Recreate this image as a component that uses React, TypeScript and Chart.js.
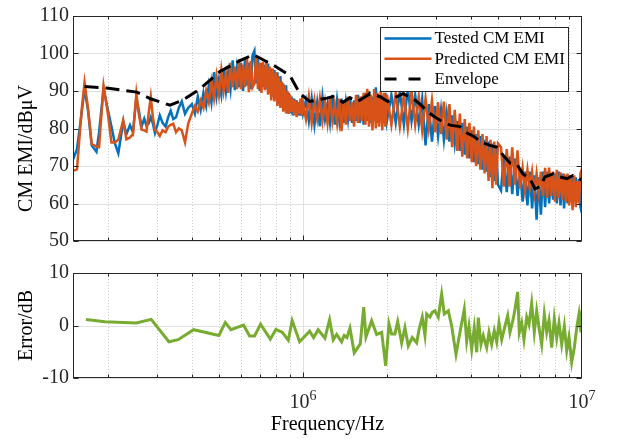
import React, { useEffect, useRef } from 'react';
import { Chart, registerables } from 'chart.js';

Chart.register(...registerables);

const FONT_FAMILY = '"Liberation Serif", "Times New Roman", Times, serif';
const INK = '#262626';

// ---------- data (frequency in kHz, levels in dBuV / dB) ----------
const freqKHz = [
  150, 155, 161, 165, 170, 175, 182, 186, 193, 200, 206, 212, 218, 227, 233, 240, 246, 253, 258, 264,
  270, 275, 280, 285, 290, 295, 301, 307, 314, 322, 329, 336, 343, 351, 359, 368, 378, 388,
  400, 410, 420, 430, 440, 450, 460, 470, 480, 490, 500, 510, 520, 530, 540, 550, 560, 570, 580, 590,
  600, 610, 620, 630, 640, 650, 660, 670, 680, 690, 700, 710, 720, 730, 740, 750, 760, 770, 780, 790,
  800, 810, 820, 830, 840, 850, 860, 870, 880, 890, 900, 910, 920, 930, 940, 950, 960, 970, 980, 990, 1000,
  1025, 1050, 1075, 1100, 1125, 1150, 1175, 1200, 1225, 1250, 1275, 1300, 1325, 1350, 1375, 1400, 1425, 1450, 1475, 1500,
  1525, 1550, 1575, 1600, 1625, 1650, 1675, 1700, 1725, 1750, 1775, 1800, 1825, 1850, 1875, 1900, 1925, 1950, 1975, 2000,
  2075, 2150, 2225, 2300, 2375, 2450, 2525, 2600, 2675, 2750, 2825, 2900, 2975, 3050, 3125, 3200, 3275, 3350, 3425, 3500,
  3575, 3650, 3725, 3800, 3875, 3950, 4025, 4100, 4175, 4250, 4325, 4400, 4475, 4550, 4625, 4700, 4775, 4850, 4925, 5000,
  5125, 5250, 5375, 5500, 5625, 5750, 5875, 6000, 6125, 6250, 6375, 6500, 6625, 6750, 6875, 7000, 7125, 7250, 7375, 7500,
  7625, 7750, 7875, 8000, 8125, 8250, 8375, 8500, 8625, 8750, 8875, 9000, 9125, 9250, 9375, 9500, 9625, 9750, 9875, 10000,
];

const testedDB = [
  71.7, 74.5, 84, 90.6, 84.5, 75.5, 73.8, 79, 90.6, 85, 80.5, 76, 73.4, 81.8, 78.5, 80.9, 79, 88.1, 85, 80.5,
  82.6, 80.8, 81.3, 83, 81.3, 78.8, 81, 83.5, 81.5, 80.5, 83, 84.7, 82.5, 83, 85.5, 87.2, 83.9, 85.5,
  86.5, 84, 88.5, 85, 89.5, 86, 91.5, 87, 95, 88.5, 93, 89, 96, 90, 95, 90.5, 98.2, 90.2, 96, 91,
  97.5, 90, 98.5, 91.5, 97.5, 90.5, 99.5, 100.7, 92, 98.5, 90, 97.5, 91, 97, 90.5, 97.3, 89.5, 96, 88.5, 95.6,
  88, 95, 86.5, 94, 86, 92, 85, 91.5, 84, 89.5, 84, 88.5, 83.5, 88, 84, 87.5, 83.5, 87, 83.4, 86.5, 84,
  87.5, 82, 88, 81, 87, 80.6, 88.5, 82.5, 86.5, 81.5, 89, 81, 87.5, 82, 88, 81.5, 87, 82.5, 88.5, 81.5,
  87.5, 82, 89, 81.5, 88.5, 81, 89.5, 82, 90, 81.5, 88.5, 82, 91, 81.5, 89, 82, 89, 81.5, 89.5, 82,
  89, 81.5, 90, 81, 90.8, 82, 89, 81, 88, 75.5, 86.5, 76.5, 86, 78, 85, 77, 84, 76.5, 83.5, 76,
  82, 74, 81.5, 73, 80.5, 72, 79.5, 71, 78.5, 70.5, 78, 69, 77, 68.5, 76.5, 67, 76, 66, 75.5, 65,
  63.5, 73, 63, 72.5, 62.5, 72, 62, 69, 60.5, 68.5, 59.5, 68.5, 58.7, 67.5, 55.7, 67, 57, 68.5, 59, 68.5,
  60, 68, 61, 68, 60, 68.5, 59.5, 68, 58.7, 67.5, 60, 67.5, 60.5, 67, 61, 67, 60.5, 66.5, 59, 57.4,
];

const predictedDB = [
  68.7, 69.1, 84.7, 92.3, 85, 75.9, 75.2, 75, 91.4, 84, 76.3, 76.3, 77, 82.2, 77.1, 77.6, 78.5, 89.3, 84, 79.7,
  79.5, 79.2, 84, 88.5, 83, 79.7, 79, 78, 79.5, 79, 80.5, 81, 81.3, 79, 80, 79.5, 76.3, 81.3,
  84, 86, 84.5, 87.5, 85.5, 90, 87, 92.5, 88, 94, 89, 95.5, 90, 94.5, 89.5, 97.5, 91, 96.5, 90.5, 98.5,
  90.5, 97, 91, 99, 89.7, 98, 91, 92, 99.5, 90.5, 97.5, 89.5, 97.8, 90.2, 97.7, 89, 96.5, 87.5, 96, 87.2,
  95, 86, 94, 85.5, 92.5, 84.5, 91.5, 84, 90, 83.9, 89, 84.5, 88, 83.5, 87.5, 83, 87, 84, 88, 83.5, 87,
  82.5, 88.5, 81.5, 87.5, 82.5, 88, 82, 87, 81.5, 88.5, 82, 86.5, 81.5, 88, 79.3, 87.5, 81, 88.5, 82, 87,
  80.5, 89, 81.5, 88.5, 82, 89.5, 81, 90.6, 80.5, 89, 79.5, 90.5, 80, 89.5, 80.5, 90, 79.5, 89.5, 80.5, 89,
  81, 89.5, 80.5, 89, 80, 90, 81, 88.5, 79.5, 88, 80, 87.5, 79, 87, 78.5, 87.2, 77, 86.5, 75, 85,
  74, 84, 72.5, 82.5, 72, 81.5, 71, 80.5, 70, 79.5, 69, 78.5, 68, 78, 66, 77, 64.1, 76.5, 65, 76,
  75, 64.5, 74.5, 64.5, 75, 65, 74.2, 64, 69.5, 63.5, 69, 64, 68.5, 63, 68, 63, 68.5, 62, 69.5, 61.5,
  69.6, 62, 68.5, 60.5, 69, 61.5, 68.3, 61, 68, 60.5, 68, 59.5, 67.5, 58.2, 67.5, 59, 66, 60, 68, 69.2,
];

const envFreqKHz = [
  165, 198, 254, 283, 334, 372, 427, 504, 595, 664, 783, 898, 975, 1059, 1122, 1219, 1281, 1391, 1474, 1574,
  1739, 1888, 2017, 2173, 2283, 2480, 2627, 2782, 2924, 3097, 3365, 3654, 3871, 4068, 4381, 4681, 4959, 5211, 5520, 5848,
  6145, 6511, 6784, 7071, 7367, 7873, 8340, 8835, 9284, 10000,
];
const envelopeDB = [
  91.2, 90.8, 89.7, 88, 86.2, 87.6, 90.5, 95.2, 98.1, 99.7, 96.9, 94.1, 89.3, 87.2, 87.6, 88.1, 88.5, 87, 88.2, 87.2,
  89.3, 88.5, 87.2, 88.5, 89.3, 88, 86.5, 84.7, 83.4, 82.2, 80.9, 80.5, 78.8, 78, 76.3, 75.5, 75, 72.9, 70.8, 70.4,
  67.9, 66.6, 63.9, 64.5, 67.1, 67.9, 67.1, 66.6, 67.5, 66.2,
];

const errFreqKHz = [
  167, 195, 253, 286, 331, 357, 406, 500, 527, 552, 613, 644, 671, 705, 764, 800, 843, 886, 915, 973,
  1057, 1092, 1134, 1199, 1246, 1284, 1321, 1376, 1406, 1438, 1474, 1527, 1605, 1651, 1682, 1763, 1837, 1915, 1979, 2033,
  2079, 2136, 2185, 2258, 2320, 2385, 2465, 2556, 2605, 2677, 2737, 2776, 2852, 2907, 2972, 3054, 3141, 3210, 3318, 3412,
  3536, 3654, 3786, 3862, 3936, 4025, 4111, 4194, 4250, 4345, 4428, 4554, 4642, 4746, 4850, 4947, 5041, 5155, 5297, 5416,
  5519, 5672, 5752, 5881, 5960, 6079, 6195, 6335, 6457, 6602, 6745, 6880, 7013, 7171, 7327, 7473, 7616, 7788, 7957, 8116,
  8272, 8458, 8643, 8816, 8984, 9185, 9385, 9596, 9755, 9917, 10000,
];
const errorDB = [
  1.16, 0.7, 0.47, 1.16, -3.1, -2.7, -0.8, -1.9, 0.58, -0.8, 0.06, -2.0, -2.0, 0.23, -2.6, -0.76, -1.3, -2.8, 0.93, -3.1,
  -1.1, -2.3, -0.8, -2.4, 1.1, -2.7, -1.7, -3.1, -1.9, -2.3, -0.5, -5.2, -3.5, 3.5, -2.2, 0.9, -1.7, -1.3, -7.7, 0.35,
  -1.6, -1.6, 0.75, -3.3, -0.4, -3.9, -2.3, -3.3, -0.8, 1.6, -1.9, 2.2, 1.6, 2.5, 2.8, 1.6, 6.0, 2.2, 2.8, -0.1,
  -5.5, -1.3, 3.1, -3.0, -0.1, -4.5, -0.4, -5.1, 1.5, -3.6, -1.9, -4.2, -1.3, -3.6, -1.0, -3.1, 0.5, -2.7, -0.1, 1.9,
  -1.3, 1.3, 3.1, 6.4, -1.3, 0.5, -2.7, 1.6, 0.2, 4.2, -1.3, 2.8, -0.4, -3.6, 2.2, -1.3, 1.0, -4.2, 1.3, -2.4,
  0.5, -3.6, -0.1, -4.8, -2.2, -7.0, -4.2, -0.1, 2.2, -1.3, 2.9,
];

// ---------- axes / labels ----------
const X_MIN_HZ = 150000;
const X_MAX_HZ = 10000000;
const xMinorGridHz = [2e5, 3e5, 4e5, 5e5, 6e5, 7e5, 8e5, 9e5, 2e6, 3e6, 4e6, 5e6, 6e6, 7e6, 8e6, 9e6];
const xMajorGridHz = [1e6];
const decadeTicksHz = [1e6, 1e7];
const decadeExponents = ['6', '7'];
const topYRange = [50, 110];
const bottomYRange = [-10, 10];
const legendLabels = ['Tested CM EMI', 'Predicted CM EMI', 'Envelope'];
const seriesColors = ['#0072BD', '#D95319', '#000000'];
const errorColor = '#77AC30';

const toPoints = (fk: number[], v: number[]) => fk.map((f, i) => ({ x: f * 1000, y: v[i] }));

const framePlugin = {
  id: 'frame',
  beforeDatasetsDraw(chart: any, _args: any, opts: any) {
    const { ctx, chartArea: a, scales } = chart;
    const xs = scales.x;
    const ys = scales.y;
    ctx.save();
    ctx.lineWidth = 1;
    ctx.strokeStyle = '#cdcdcd';
    ctx.setLineDash([1, 2]);
    for (const v of xMinorGridHz) {
      const px = Math.round(xs.getPixelForValue(v)) + 0.5;
      ctx.beginPath();
      ctx.moveTo(px, a.top);
      ctx.lineTo(px, a.bottom);
      ctx.stroke();
    }
    ctx.setLineDash([]);
    ctx.strokeStyle = '#e1e1e1';
    for (const v of xMajorGridHz) {
      const px = Math.round(xs.getPixelForValue(v)) + 0.5;
      ctx.beginPath();
      ctx.moveTo(px, a.top);
      ctx.lineTo(px, a.bottom);
      ctx.stroke();
    }
    for (const t of ys.ticks) {
      const py = Math.round(ys.getPixelForValue(t.value)) + 0.5;
      ctx.beginPath();
      ctx.moveTo(a.left, py);
      ctx.lineTo(a.right, py);
      ctx.stroke();
    }
    ctx.restore();
  },
  afterDatasetsDraw(chart: any, _args: any, opts: any) {
    const { ctx, chartArea: a, scales } = chart;
    const xs = scales.x;
    const ys = scales.y;
    const L = Math.round(a.left) + 0.5;
    const R = Math.round(a.right) - 0.5;
    const T = Math.round(a.top) + 0.5;
    const B = Math.round(a.bottom) - 0.5;
    ctx.save();
    ctx.strokeStyle = INK;
    ctx.lineWidth = 1;
    for (const t of ys.ticks) {
      const py = Math.round(ys.getPixelForValue(t.value)) + 0.5;
      ctx.beginPath();
      ctx.moveTo(L, py); ctx.lineTo(L + 5, py);
      ctx.moveTo(R, py); ctx.lineTo(R - 5, py);
      ctx.stroke();
    }
    const xTick = (v: number, len: number) => {
      const px = Math.round(xs.getPixelForValue(v)) + 0.5;
      ctx.beginPath();
      ctx.moveTo(px, B); ctx.lineTo(px, B - len);
      ctx.moveTo(px, T); ctx.lineTo(px, T + len);
      ctx.stroke();
    };
    xMinorGridHz.forEach((v) => xTick(v, 3));
    xMajorGridHz.forEach((v) => xTick(v, 5));
    ctx.strokeRect(L, T, R - L, B - T);

    ctx.fillStyle = '#000';
    ctx.font = `20px ${FONT_FAMILY}`;
    ctx.textAlign = 'center';
    ctx.textBaseline = 'middle';
    ctx.save();
    ctx.translate(opts.yTitleX, (a.top + a.bottom) / 2 + (opts.yTitleShift || 0));
    ctx.rotate(-Math.PI / 2);
    ctx.fillText(opts.yTitle, 0, 0);
    ctx.restore();

    if (opts.xLabels) {
      decadeTicksHz.forEach((v, i) => {
        const px = xs.getPixelForValue(v);
        ctx.font = `20px ${FONT_FAMILY}`;
        const w1 = ctx.measureText('10').width;
        ctx.font = `14px ${FONT_FAMILY}`;
        const w2 = ctx.measureText(decadeExponents[i]).width;
        const start = px - (w1 + w2) / 2;
        ctx.textAlign = 'left';
        ctx.textBaseline = 'alphabetic';
        ctx.font = `20px ${FONT_FAMILY}`;
        ctx.fillStyle = INK;
        ctx.fillText('10', start, a.bottom + 30);
        ctx.font = `14px ${FONT_FAMILY}`;
        ctx.fillText(decadeExponents[i], start + w1, a.bottom + 22);
      });
      ctx.font = `20px ${FONT_FAMILY}`;
      ctx.fillStyle = '#000';
      ctx.textAlign = 'center';
      ctx.textBaseline = 'middle';
      ctx.fillText(opts.xTitle, (a.left + a.right) / 2, a.bottom + 47);
    }

    if (opts.legend) {
      const bx = Math.round(a.right) - 13.5;
      const bw = 188;
      const left = bx - bw;
      const top = Math.round(a.top) + 11.5;
      const bh = 64;
      ctx.fillStyle = '#fff';
      ctx.fillRect(left, top, bw, bh);
      ctx.strokeStyle = INK;
      ctx.lineWidth = 1;
      ctx.strokeRect(left, top, bw, bh);
      const ds = chart.data.datasets;
      legendLabels.forEach((lab, i) => {
        const d = ds.find((s: any) => s.label === lab);
        const y = top + 11 + i * 20.3;
        ctx.save();
        ctx.strokeStyle = d.borderColor;
        ctx.lineWidth = d.borderWidth;
        ctx.setLineDash(d.borderDash ? [12, 12] : []);
        ctx.beginPath();
        ctx.moveTo(left + 4, y);
        ctx.lineTo(left + 51, y);
        ctx.stroke();
        ctx.restore();
        ctx.fillStyle = '#000';
        ctx.font = `17px ${FONT_FAMILY}`;
        ctx.textAlign = 'left';
        ctx.textBaseline = 'middle';
        ctx.fillText(lab, left + 54, y + 0.5);
      });
    }
    ctx.restore();
  },
};

const xScale = (height: number) => ({
  type: 'logarithmic',
  min: X_MIN_HZ,
  max: X_MAX_HZ,
  ticks: { display: false },
  grid: { display: false, drawTicks: false },
  border: { display: false },
  afterFit: (s: any) => { s.height = height; },
});

const yScale = (range: number[]) => ({
  min: range[0],
  max: range[1],
  ticks: { stepSize: 10, color: INK, padding: 4, font: { family: FONT_FAMILY, size: 20 } },
  grid: { display: false, drawTicks: false },
  border: { display: false },
  afterFit: (s: any) => { s.width = 73; },
});

export default function App() {
  const topRef = useRef<HTMLCanvasElement>(null);
  const botRef = useRef<HTMLCanvasElement>(null);

  useEffect(() => {
    const top = new Chart(topRef.current as HTMLCanvasElement, {
      type: 'line',
      data: {
        datasets: [
          { label: legendLabels[0], data: toPoints(freqKHz, testedDB), borderColor: seriesColors[0], borderWidth: 2.5, pointRadius: 0, order: 2 },
          { label: legendLabels[1], data: toPoints(freqKHz, predictedDB), borderColor: seriesColors[1], borderWidth: 2.5, pointRadius: 0, order: 1 },
          { label: legendLabels[2], data: toPoints(envFreqKHz, envelopeDB), borderColor: seriesColors[2], borderWidth: 3, borderDash: [14, 7], pointRadius: 0, order: 0 },
        ],
      } as any,
      options: {
        responsive: false,
        animation: false,
        events: [],
        layout: { padding: { left: 0, right: 35, top: 10, bottom: 10 } },
        elements: { line: { tension: 0 } },
        scales: { x: xScale(0) as any, y: yScale(topYRange) as any },
        plugins: {
          legend: { display: false },
          tooltip: { enabled: false },
          frame: { yTitle: 'CM EMI/dBμV', yTitleX: 27, yTitleShift: 20, legend: true },
        } as any,
      },
      plugins: [framePlugin as any],
    });

    const bottom = new Chart(botRef.current as HTMLCanvasElement, {
      type: 'line',
      data: {
        datasets: [
          { label: 'Error', data: toPoints(errFreqKHz, errorDB), borderColor: errorColor, borderWidth: 3, pointRadius: 0 },
        ],
      } as any,
      options: {
        responsive: false,
        animation: false,
        events: [],
        layout: { padding: { left: 0, right: 35, top: 7, bottom: 0 } },
        elements: { line: { tension: 0 } },
        scales: { x: xScale(61) as any, y: yScale(bottomYRange) as any },
        plugins: {
          legend: { display: false },
          tooltip: { enabled: false },
          frame: { yTitle: 'Error/dB', yTitleX: 27, xLabels: true, xTitle: 'Frequency/Hz' },
        } as any,
      },
      plugins: [framePlugin as any],
    });

    return () => {
      top.destroy();
      bottom.destroy();
    };
  }, []);

  return (
    <div style={{ position: 'absolute', left: 0, top: 0, width: 617, height: 439, background: '#fff' }}>
      <canvas ref={topRef} width={617} height={257} style={{ position: 'absolute', left: 0, top: 0 }} />
      <canvas ref={botRef} width={617} height={182} style={{ position: 'absolute', left: 0, top: 257 }} />
    </div>
  );
}
